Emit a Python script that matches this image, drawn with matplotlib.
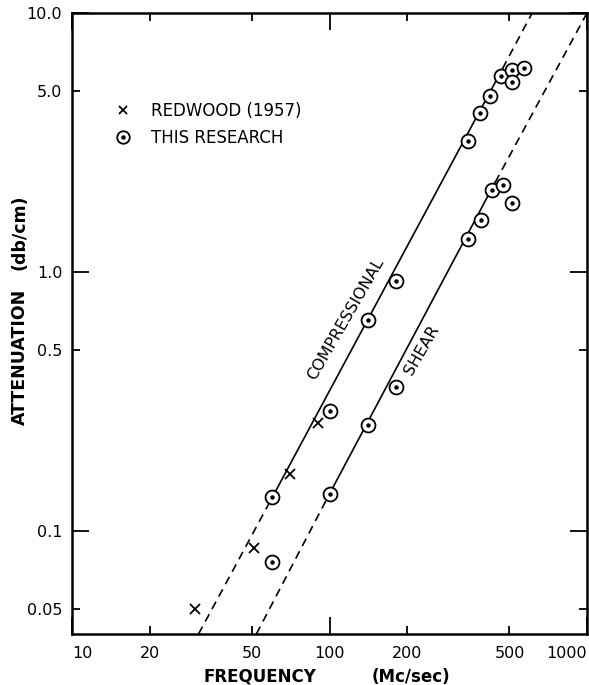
import matplotlib
matplotlib.use("Agg")
import matplotlib.pyplot as plt
from matplotlib.lines import Line2D
from matplotlib.legend_handler import HandlerTuple
from matplotlib.ticker import FixedLocator, FixedFormatter

# ---- data ----
redwood_f = [30, 51, 70, 90]
redwood_att = [0.05, 0.086, 0.166, 0.26]

comp_f = [60, 100, 141, 182, 345, 385, 420, 465, 510, 510, 570]
comp_att = [0.135, 0.29, 0.65, 0.92, 3.2, 4.1, 4.8, 5.7, 6.0, 5.4, 6.15]

shear_f = [60, 100, 141, 182, 345, 386, 426, 470, 510]
shear_att = [0.076, 0.139, 0.257, 0.36, 1.34, 1.59, 2.08, 2.17, 1.85]

# fitted lines (end points)
comp_low_f, comp_low_att = [31, 60], [0.04, 0.135]
comp_mid_f, comp_mid_att = [60, 470], [0.135, 6.1]
comp_high_f, comp_high_att = [470, 612], [6.1, 10.0]

shear_low_f, shear_low_att = [52, 100], [0.04, 0.139]
shear_mid_f, shear_mid_att = [100, 440], [0.139, 2.22]
shear_high_f, shear_high_att = [440, 1000], [2.22, 10.0]

x_major = [10, 100, 1000]
x_minor = [20, 50, 200, 500]
y_major = [0.1, 1.0, 10.0]
y_minor = [0.05, 0.5, 5.0]
x_major_labels = ["10", "100", "1000"]
x_minor_labels = ["20", "50", "200", "500"]
y_major_labels = ["0.1", "1.0", "10.0"]
y_minor_labels = ["0.05", "0.5", "5.0"]

plt.rcParams['font.family'] = ['DejaVu Sans']

fig = plt.figure(figsize=(5.89, 6.85), dpi=100)
ax = fig.add_axes([72/589, 1-634/685, (587-72)/589, (634-13)/685])
ax.set_xscale('log')
ax.set_yscale('log')
ax.set_xlim(10, 1000)
ax.set_ylim(0.04, 10)

lw = 1.2
dash = (0, (5, 3.5))
ax.plot(comp_low_f, comp_low_att, color='black', lw=lw, linestyle=dash)
ax.plot(comp_mid_f, comp_mid_att, color='black', lw=lw)
ax.plot(comp_high_f, comp_high_att, color='black', lw=lw, linestyle=dash)
ax.plot(shear_low_f, shear_low_att, color='black', lw=lw, linestyle=dash)
ax.plot(shear_mid_f, shear_mid_att, color='black', lw=lw)
ax.plot(shear_high_f, shear_high_att, color='black', lw=lw, linestyle=dash)

circ_kw = dict(linestyle='none', marker='o', markersize=10, mfc='white',
               mec='black', mew=1.3, zorder=3)
dot_kw = dict(linestyle='none', marker='o', markersize=2.2, color='black', zorder=4)
ax.plot(comp_f, comp_att, **circ_kw)
ax.plot(comp_f, comp_att, **dot_kw)
ax.plot(shear_f, shear_att, **circ_kw)
ax.plot(shear_f, shear_att, **dot_kw)
ax.plot(redwood_f, redwood_att, linestyle='none', marker='x', markersize=6.5,
        mew=1.3, color='black', zorder=4)

# ticks
for axis, maj, mino, majl, minl in ((ax.xaxis, x_major, x_minor, x_major_labels, x_minor_labels),
                                    (ax.yaxis, y_major, y_minor, y_major_labels, y_minor_labels)):
    axis.set_major_locator(FixedLocator(maj))
    axis.set_major_formatter(FixedFormatter(majl))
    axis.set_minor_locator(FixedLocator(mino))
    axis.set_minor_formatter(FixedFormatter(minl))

ax.tick_params(which='both', direction='in', top=True, right=True, width=1.3,
               labelsize=11.5, colors='black')
ax.tick_params(which='major', length=12)
ax.tick_params(which='minor', length=6)
ax.tick_params(axis='x', which='both', pad=9)
ax.tick_params(axis='y', which='both', pad=7)
for s in ax.spines.values():
    s.set_linewidth(1.8)

fig.canvas.draw()
xl = ax.xaxis.get_majorticklabels()
xl[0].set_ha('left')
xl[-1].set_ha('right')

# curve labels
ax.text(116, 0.66, "COMPRESSIONAL", rotation=60, ha='center', va='center', fontsize=11.5)
ax.text(228, 0.50, "SHEAR", rotation=60, ha='center', va='center', fontsize=11.5)

# legend
h_x = Line2D([], [], linestyle='none', marker='x', markersize=5.5, mew=1.3, color='black')
h_c = Line2D([], [], linestyle='none', marker='o', markersize=9, mfc='white', mec='black', mew=1.3)
h_d = Line2D([], [], linestyle='none', marker='o', markersize=2.2, color='black')
ax.legend([h_x, (h_c, h_d)], ["REDWOOD (1957)", "THIS RESEARCH"],
          handler_map={tuple: HandlerTuple(ndivide=1, pad=0)},
          loc='upper left', bbox_to_anchor=(0.083, 0.857), frameon=False,
          fontsize=12, handlelength=1.0, handletextpad=1.2, borderpad=0,
          borderaxespad=0, labelspacing=0.55)

# axis titles
fig.text(260/589, 3/685, "FREQUENCY", ha='center', va='baseline',
         fontsize=12, fontweight='bold')
fig.text(411/589, 3/685, "(Mc/sec)", ha='center', va='baseline',
         fontsize=12, fontweight='bold')
fig.text(20/589, 1-357/685, "ATTENUATION", ha='center', va='center',
         rotation=90, fontsize=12.5, fontweight='bold')
fig.text(20/589, 1-232/685, "(db/cm)", ha='center', va='center',
         rotation=90, fontsize=12.5, fontweight='bold')

fig.savefig("out.png", dpi=100)
